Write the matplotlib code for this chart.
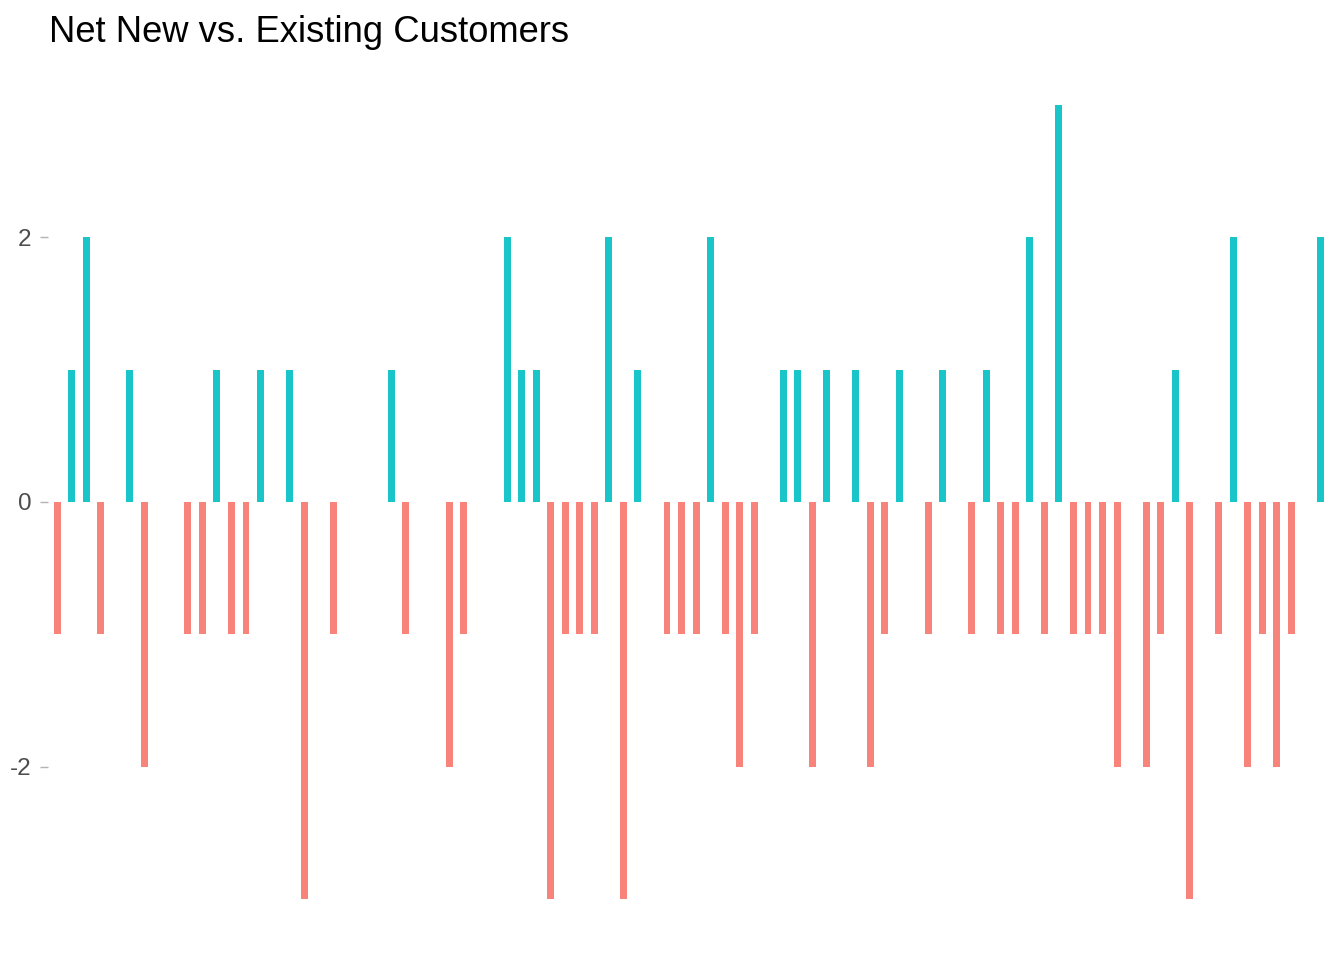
import matplotlib
matplotlib.use("Agg")
import matplotlib.pyplot as plt
import numpy as np

# net change in customers per period (positive = net new, negative = lost)
net_change = [-1, 1, 2, -1, 0, 1, -2, 0, 0, -1,
              -1, 1, -1, -1, 1, 0, 1, -3, 0, -1,
              0, 0, 0, 1, -1, 0, 0, -2, -1, 0,
              0, 2, 1, 1, -3, -1, -1, -1, 2, -3,
              1, 0, -1, -1, -1, 2, -1, -2, -1, 0,
              1, 1, -2, 1, 0, 1, -2, -1, 1, 0,
              -1, 1, 0, -1, 1, -1, -1, 2, -1, 3,
              -1, -1, -1, -2, 0, -2, -1, 1, -3, 0,
              -1, 2, -2, -1, -2, -1, 0, 2]
y_ticks = [-2, 0, 2]
title = "Net New vs. Existing Customers"

pos_color = "#00BFC4"
neg_color = "#F8766D"

plt.rcParams['font.family'] = ['Liberation Sans', 'DejaVu Sans']

W, H = 1344, 960
fig = plt.figure(figsize=(W / 100, H / 100), dpi=100)
ax = fig.add_axes([48 / W, 21 / H, (1338 - 48) / W, (939 - 65) / H])

x = np.arange(len(net_change))
vals = np.array(net_change)
colors = [pos_color if v > 0 else neg_color for v in vals]
ax.bar(x, vals, width=0.48, color=colors, alpha=0.9, linewidth=0)

ax.set_xlim(-0.64, 88.22)
ax.set_ylim(-3.3, 3.3)
ax.set_yticks(y_ticks)
ax.set_yticklabels([str(t) for t in y_ticks])
ax.set_xticks([])
for s in ax.spines.values():
    s.set_visible(False)
ax.tick_params(axis='y', length=6, width=1, color='#B3B3B3',
               labelcolor='#4D4D4D', labelsize=17.5, pad=6)

fig.text(49 / W, 1 - 33 / H, title, fontsize=26.2, color='black',
         ha='left', va='center')

fig.savefig("out.png", dpi=100, facecolor='white')
